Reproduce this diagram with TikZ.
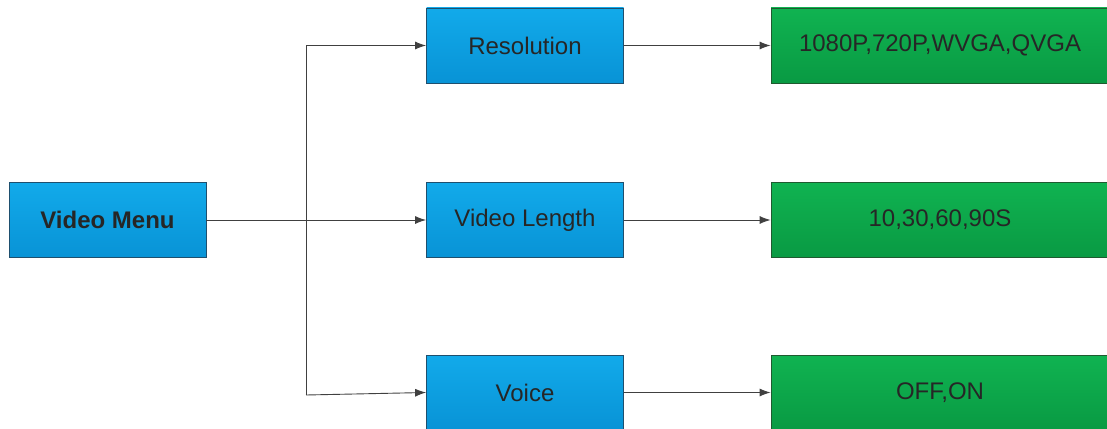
\documentclass[tikz,border=0pt]{standalone}
\usepackage{fontspec}
\setmainfont{Liberation Sans}
\usetikzlibrary{arrows.meta}
\definecolor{bluetop}{HTML}{12AAEA}
\definecolor{bluebot}{HTML}{0893D6}
\definecolor{blueedge}{HTML}{1E4F6E}
\definecolor{greentop}{HTML}{10B351}
\definecolor{greenbot}{HTML}{099A43}
\definecolor{greenedge}{HTML}{1F5A30}
\definecolor{linecol}{HTML}{404040}
\tikzset{
  bluebox/.style={draw=blueedge, line width=0.8pt, top color=bluetop, bottom color=bluebot,
    minimum width=197pt, minimum height=75pt, inner sep=0pt, font=\fontsize{24pt}{28pt}\selectfont, text=black!85,
    drop shadow/.style={}},
  greenbox/.style={draw=greenedge, line width=0.8pt, top color=greentop, bottom color=greenbot,
    minimum width=338pt, minimum height=75pt, inner sep=0pt, font=\fontsize{24pt}{28pt}\selectfont, text=black!85},
  conn/.style={draw=linecol, line width=0.9pt},
  arr/.style={conn, -{Latex[length=11pt,width=8pt]}}
}
\begin{document}
\begin{tikzpicture}[x=1pt,y=-1pt]
\useasboundingbox (0,0) rectangle (1107,428);
\begin{scope}
\clip (0,0) rectangle (1107,428);
\node[bluebox, font=\fontsize{24pt}{28pt}\selectfont\bfseries] (vm) at (107.5,220) {Video Menu};
\node[bluebox] (res) at (525,45.5) {Resolution};
\node[bluebox] (vl) at (525,220) {Video Length};
\node[bluebox] (voice) at (525,392.5) {Voice};
\node[greenbox] (r1) at (940,45.5) {1080P,720P,WVGA,QVGA};
\node[greenbox] (r2) at (940,220) {10,30,60,90S};
\node[greenbox] (r3) at (940,392.5) {OFF,ON};
\coordinate (jt) at (306,45.5);
\coordinate (jb) at (306,395);
\draw[conn] (jt) -- (jb);
\draw[arr] (vm.east) -- (vl.west);
\draw[arr] (jt) -- (res.west);
\draw[arr] (jb) -- (voice.west);
\draw[arr] (res.east) -- (r1.west);
\draw[arr] (vl.east) -- (r2.west);
\draw[arr] (voice.east) -- (r3.west);
\end{scope}
\end{tikzpicture}
\end{document}
